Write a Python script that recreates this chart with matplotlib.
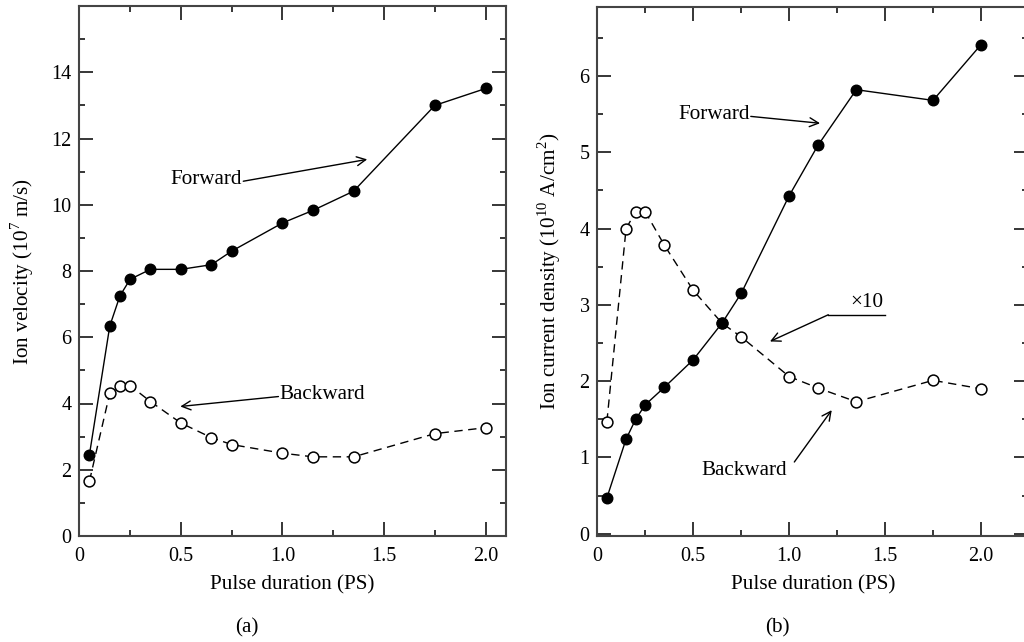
import matplotlib
matplotlib.use("Agg")
import matplotlib.pyplot as plt
from matplotlib.ticker import FixedLocator
from matplotlib.lines import Line2D

plt.rcParams['font.family'] = ['Liberation Serif', 'DejaVu Serif']
plt.rcParams['mathtext.fontset'] = 'custom'
plt.rcParams['mathtext.rm'] = 'Liberation Serif'

# ---- data ----
pulse = [0.05, 0.15, 0.2, 0.25, 0.35, 0.5, 0.65, 0.75, 1.0, 1.15, 1.35, 1.75, 2.0]
vel_forward = [2.46, 6.34, 7.25, 7.75, 8.05, 8.05, 8.19, 8.6, 9.45, 9.83, 10.41, 13.0, 13.51]
vel_backward = [1.66, 4.31, 4.54, 4.54, 4.06, 3.41, 2.97, 2.76, 2.50, 2.39, 2.39, 3.09, 3.27]
cur_forward = [0.47, 1.24, 1.50, 1.69, 1.92, 2.28, 2.76, 3.15, 4.43, 5.09, 5.82, 5.68, 6.41]
cur_backward = [1.47, 4.00, 4.22, 4.22, 3.78, 3.19, 2.76, 2.58, 2.06, 1.91, 1.73, 2.01, 1.90]

xtick_vals = [0, 0.5, 1.0, 1.5, 2.0]
xtick_labels = ['0', '0.5', '1.0', '1.5', '2.0']

FS_TICK = 14.5
FS_LAB = 15.2
FS_TXT = 15.2
W, H = 1024, 642
fig = plt.figure(figsize=(W / 100, H / 100), dpi=100)


def frac(x0, y0, x1, y1):
    return [x0 / W, 1 - y1 / H, (x1 - x0) / W, (y1 - y0) / H]


axL = fig.add_axes(frac(79.3, 6, 506, 536))
axR = fig.add_axes(frac(597.3, 7.3, 1028, 536))

for ax in (axL, axR):
    for s in ax.spines.values():
        s.set_linewidth(1.5)
        s.set_color('#444444')
    ax.tick_params(which='both', direction='in', top=True, right=True,
                   labelsize=FS_TICK, color='black', width=1.1)
    ax.tick_params(which='major', length=10)
    ax.tick_params(which='minor', length=4.3)
    ax.tick_params(axis='x', which='major', pad=8)
    ax.tick_params(axis='y', which='major', pad=5.5)
    ax.set_xticks(xtick_vals)
    ax.set_xticklabels(xtick_labels)
    ax.xaxis.set_minor_locator(FixedLocator([0.25, 0.75, 1.25, 1.75, 2.25]))


def plot_series(ax, x, yf, yb):
    ax.plot(x, yb, color='black', lw=1.0, dashes=(6, 4), marker='o', ms=7.8,
            mfc='white', mec='black', mew=1.1, zorder=3)
    ax.plot(x, yf, color='black', lw=1.0, marker='o', ms=7.6,
            mfc='black', mec='black', zorder=4)


arrow = dict(arrowstyle='->', lw=1.0, color='black', shrinkA=0, shrinkB=0,
             mutation_scale=16)

# ---- panel (a) ----
plot_series(axL, pulse, vel_forward, vel_backward)
axL.set_xlim(0, 2.1)
axL.set_ylim(0, 16)
axL.set_yticks(range(0, 15, 2))
axL.yaxis.set_minor_locator(FixedLocator([1, 3, 5, 7, 9, 11, 13, 15]))
axL.set_xlabel('Pulse duration (PS)', fontsize=FS_LAB)
axL.set_ylabel(r'Ion velocity ($10^7$ m/s)', fontsize=FS_LAB)
axL.xaxis.set_label_coords(0.5, -(585 - 536) / 530)
axL.xaxis.label.set_va('center')
axL.yaxis.set_label_coords((22 - 79.3) / 426.7, 0.5)
axL.yaxis.label.set_va('center')

axL.annotate('', xy=(1.417, 11.37), xytext=(0.807, 10.71), arrowprops=arrow)
axL.text(0.80, 10.77, 'Forward', ha='right', va='center', fontsize=FS_TXT)
axL.annotate('', xy=(0.497, 3.91), xytext=(0.98, 4.21), arrowprops=arrow)
axL.text(0.985, 4.26, 'Backward', ha='left', va='center', fontsize=FS_TXT)

# ---- panel (b) ----
plot_series(axR, pulse, cur_forward, cur_backward)
axR.set_xlim(0, 2.245)
axR.set_ylim(-0.03, 6.9)
axR.set_yticks(range(0, 7))
axR.yaxis.set_minor_locator(FixedLocator([0.5, 1.5, 2.5, 3.5, 4.5, 5.5, 6.5]))
axR.set_xlabel('Pulse duration (PS)', fontsize=FS_LAB)
axR.set_ylabel(r'Ion current density ($10^{10}$ A/cm$^2$)', fontsize=FS_LAB)
axR.xaxis.set_label_coords((813 - 597.3) / 430.7, -(585 - 536) / 528.7)
axR.xaxis.label.set_va('center')
axR.yaxis.set_label_coords((549 - 597.3) / 430.7, 0.5)
axR.yaxis.label.set_va('center')

axR.annotate('', xy=(1.161, 5.38), xytext=(0.80, 5.47), arrowprops=arrow)
axR.text(0.795, 5.50, 'Forward', ha='right', va='center', fontsize=FS_TXT)

axR.add_line(Line2D([1.50, 1.204], [2.87, 2.87], color='black', lw=1.0))
axR.annotate('', xy=(0.90, 2.52), xytext=(1.204, 2.87), arrowprops=arrow)
axR.text(1.403, 3.03, '×10', ha='center', va='center', fontsize=FS_TXT)

axR.annotate('', xy=(1.222, 1.62), xytext=(1.027, 0.94), arrowprops=arrow)
axR.text(0.768, 0.83, 'Backward', ha='center', va='center', fontsize=FS_TXT)

fig.text(247 / W, 1 - 628 / H, '(a)', ha='center', va='center', fontsize=FS_TXT)
fig.text(777.5 / W, 1 - 628 / H, '(b)', ha='center', va='center', fontsize=FS_TXT)

fig.savefig('out.png', dpi=100)
